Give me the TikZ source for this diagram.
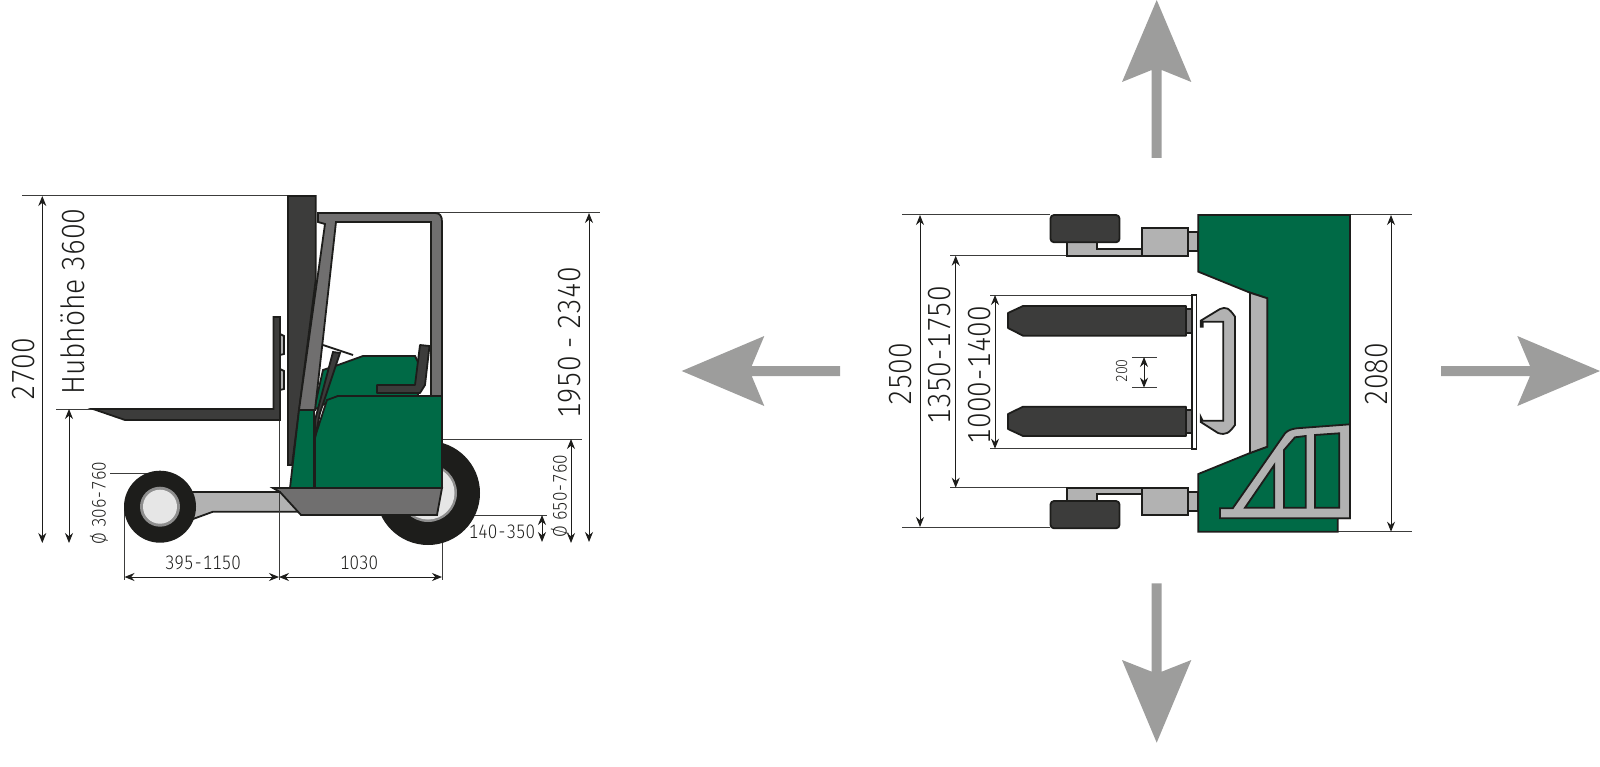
\documentclass[tikz,border=0pt]{standalone}
\usepackage{fontspec}
\setmainfont[FakeStretch=0.87,Numbers=Monospaced]{Fira Sans Light}
\newfontface\hubface[FakeStretch=0.88,Numbers=Monospaced]{Fira Sans Light}
\newcommand{\hy}{\kern1.2pt-\kern1.2pt}
\usetikzlibrary{arrows.meta}
\definecolor{bodygreen}{HTML}{006A46}
\definecolor{darkpart}{HTML}{3C3C3B}
\definecolor{outline}{HTML}{1D1D1B}
\definecolor{lightpart}{HTML}{B2B2B2}
\definecolor{midpart}{HTML}{706F6F}
\definecolor{hubfill}{HTML}{E6E6E6}
\definecolor{bigarrow}{HTML}{9D9D9C}
\tikzset{
  part/.style={draw=outline,line width=1.8pt,line join=miter},
  dimline/.style={draw=outline,line width=1pt,{Stealth[length=10pt,width=8pt]}-{Stealth[length=10pt,width=8pt]}},
  extline/.style={draw=darkpart,line width=1pt},
  biglabel/.style={inner sep=0pt,text=outline,font=\fontsize{32}{32}\selectfont,rotate=90},
  smalllabel/.style={inner sep=0pt,text=outline,font=\fontsize{19.5}{19.5}\selectfont},
  bigmark/.style={fill=bigarrow,draw=none}
}
\begin{document}
\begin{tikzpicture}[x=1pt,y=-1pt]
\useasboundingbox (0,0) rectangle (1600,767);

% big arrows
\fill[bigmark] (1151.7,158) -- (1151.7,70) -- (1122,82) -- (1156.7,0) -- (1191.3,82) -- (1161.7,70) -- (1161.7,158) -- cycle;
\fill[bigmark] (1151.7,583.3) -- (1151.7,671.7) -- (1122,660) -- (1156.7,742.7) -- (1191.3,660) -- (1161.7,671.7) -- (1161.7,583.3) -- cycle;
\fill[bigmark] (840,366) -- (751.7,366) -- (764.3,336) -- (681.7,371) -- (764.3,406) -- (751.7,376) -- (840,376) -- cycle;
\fill[bigmark] (1441,366) -- (1530,366) -- (1517.3,336) -- (1600,371) -- (1517.3,406) -- (1530,376) -- (1441,376) -- cycle;

% ---------- side view: dimension lines
\coordinate (topL) at (22,196);
\coordinate (topR) at (288,196);
\draw[extline] (topL) -- (topR);
\draw[dimline] (42.3,196) -- (42.3,543);
\draw[extline] (56,409) -- (93,409);
\draw[dimline] (69,409) -- (69,543);
\draw[extline] (110,473) -- (150,473);
\draw[extline] (124.5,507) -- (124.5,580);
\draw[extline] (442,540) -- (442,580);
\draw[dimline] (124.5,577) -- (279,577);
\draw[dimline] (279,577) -- (442,577);
\draw[extline] (435,213) -- (600,213);
\draw[dimline] (589,213) -- (589,542);
\draw[extline] (442,439) -- (582,439);
\draw[dimline] (571,439) -- (571,543);
\draw[extline] (437,515) -- (547,515);
\draw[dimline] (542,515) -- (542,542);

\node[biglabel] (l2700) at (24,369) {2700};
\node[biglabel,font=\hubface\fontsize{32}{32}\selectfont] (lhub) at (73,301.5) {Hubhöhe 3600};
\node[biglabel] (l1950) at (570,343) {1950 - 2340};
\node[smalllabel,rotate=90] (l306) at (99,503) {Ø 306\hy760};
\node[smalllabel,rotate=90] (l650) at (560,496) {Ø 650\hy760};
\node[smalllabel] (l395) at (203,563) {395\hy1150};
\node[smalllabel] (l1030) at (359,563) {1030};
\node[smalllabel] (l140) at (502,532) {140\hy350};

% small wheel and arm
\filldraw[part,fill=lightpart] (190,492) -- (300,492) -- (300,511.7) -- (213,511.7) -- (193,519) -- cycle;
\fill[outline] (160,506.7) circle (36);
\fill[lightpart!80!black] (160,506.7) circle (20);
\fill[hubfill] (160,506.7) circle (17);
\draw[extline] (279,420) -- (279,580);

% large wheel
\fill[outline] (428,493) circle (52);
\fill[lightpart!80!black] (428,493) circle (29);
\fill[hubfill] (428,493) circle (26.5);

% forks and carriage
\filldraw[part,fill=lightpart] (280,334) -- (284,336) -- (284,354) -- (280,355) -- cycle;
\filldraw[part,fill=lightpart] (280,369) -- (284,371) -- (284,389) -- (280,390) -- cycle;
\filldraw[part,fill=darkpart] (273.5,317) -- (280,317) -- (280,420) -- (125,420) -- (93,409) -- (273.5,409) -- cycle;

% hood
\filldraw[part,fill=bodygreen] (314,410) -- (323,370) -- (338,365) -- (363,356) -- (415,356) -- (418,362) -- (418,396) -- (338,396) -- cycle;
% mast
\filldraw[part,fill=darkpart] (288,196) -- (315.7,196) -- (315.7,280) -- (292,465) -- (288,465) -- cycle;
% cab frame
\filldraw[part,fill=midpart] (318,213) -- (435,213) .. controls (440,213) and (442,216) .. (442,222) -- (442,396) -- (431,396) -- (431,222) -- (336,222) -- (315,410) -- (299,410) -- (325,224) -- (318,222) -- cycle;
% front green
\filldraw[part,fill=bodygreen] (290,488) -- (299,410) -- (314,410) -- (314,488) -- cycle;
% rear green
\filldraw[part,fill=bodygreen] (315,488) -- (315,437) -- (327,400) -- (338,396) -- (442,396) -- (442,488) -- cycle;
% steering
\draw[outline,line width=1.8pt] (323,345) -- (353,355);
\filldraw[part,fill=darkpart] (333,352) -- (340,353) -- (320,413) -- (315,438) -- (315,420) -- cycle;
% seat
\filldraw[part,fill=darkpart,line join=round] (420,345) -- (429.5,346) -- (425,385) -- (420,393) -- (377,393) -- (377,385) -- (415,385) -- cycle;
% skirt
\filldraw[part,fill=midpart] (273,488) -- (442,488) -- (437,515) -- (301,515) -- (280,492) -- cycle;

% ---------- top view: dimension lines
\draw[extline] (902,215) -- (1050,215);
\draw[extline] (902,527) -- (1050,527);
\draw[dimline] (920,215) -- (920,527);
\draw[extline] (950,255.7) -- (1067,255.7);
\draw[extline] (950,487.7) -- (1067,487.7);
\draw[dimline] (955.7,255.7) -- (955.7,487.7);
\draw[extline] (990,295) -- (1192,295);
\draw[extline] (990,448.7) -- (1192,448.7);
\draw[dimline] (995,295) -- (995,448.7);
\draw[extline] (1132,357) -- (1157,357);
\draw[extline] (1132,387.7) -- (1157,387.7);
\draw[dimline] (1144,357) -- (1144,387.7);

\node[biglabel] (l2500) at (900.7,374) {2500};
\node[biglabel] (l1350) at (940,355) {1350\hy1750};
\node[biglabel] (l1000) at (980,375) {1000\hy1400};
\node[biglabel] (l2080) at (1377,374) {2080};
\node[inner sep=0pt,text=outline,font=\fontsize{16}{16}\selectfont,rotate=90] (l200) at (1121.7,371) {200};
\draw[extline] (1350,215) -- (1412,215);
\draw[extline] (1338,531.7) -- (1412,531.7);
\draw[dimline] (1391,215) -- (1391,531.7);

% green body
\filldraw[part,fill=bodygreen] (1198.3,215) -- (1350,215) -- (1350,518.3) -- (1337.7,518.3) -- (1337.7,531.7) -- (1198.3,531.7) -- (1198.3,474) -- (1250,453) -- (1267.3,446.7) -- (1267.3,298.3) -- (1250,292.7) -- (1198.3,271.7) -- cycle;
\filldraw[part,fill=lightpart] (1250,292.7) -- (1267.3,298.3) -- (1267.3,446.7) -- (1250,453) -- cycle;
% guard
\filldraw[part,fill=lightpart] (1220,508.3) -- (1232.7,508.3) -- (1285,433.3) .. controls (1288,430) and (1292,429) .. (1296.7,428.3) -- (1350,424.3) -- (1350,518.3) -- (1220,518.3) -- cycle;
\filldraw[part,fill=bodygreen] (1274.3,465) -- (1274.3,507.7) -- (1245,507.7) -- cycle;
\filldraw[part,fill=bodygreen] (1284,450) -- (1295,437.3) -- (1305.7,436) -- (1305.7,507.7) -- (1284,507.7) -- cycle;
\filldraw[part,fill=bodygreen] (1315,435) -- (1339.3,433.3) -- (1339.3,507.7) -- (1315,507.7) -- cycle;

% handle
\filldraw[part,fill=lightpart] (1200.7,326.7) -- (1200.7,320.7) -- (1220,309) .. controls (1226,306.5) and (1229,308) .. (1235,316.7) -- (1235,425) .. controls (1229,433) and (1226,435.5) .. (1218,433) -- (1200.7,422) -- (1200.7,416.7) -- (1202.7,420.7) -- (1223.3,420.7) -- (1223.3,321.7) -- (1202.7,321.7) -- (1202.7,326.7) -- cycle;

% carriage plate and fork ends
\filldraw[part,fill=white,line width=1.2pt] (1192,295) rectangle (1196.5,449);
\filldraw[part,fill=midpart] (1185,309) rectangle (1192,333);
\filldraw[part,fill=midpart] (1185,410) rectangle (1192,433);
\filldraw[part,fill=darkpart,line join=round] (1023,306) -- (1186,306) -- (1186,335.7) -- (1023,335.7) -- (1008,328) -- (1008,313) -- cycle;
\filldraw[part,fill=darkpart,line join=round] (1023,406.7) -- (1186,406.7) -- (1186,436) -- (1023,436) -- (1008,429) -- (1008,414) -- cycle;

% upper wheel unit
\filldraw[part,fill=lightpart] (1067.3,242.3) -- (1096.7,242.3) -- (1096.7,249) -- (1141.7,249) -- (1141.7,255.7) -- (1067.3,255.7) -- cycle;
\filldraw[part,fill=lightpart] (1141.7,228.3) rectangle (1187.7,255.7);
\filldraw[part,fill=lightpart] (1188,232.3) rectangle (1198.3,251);
\filldraw[part,fill=darkpart,rounded corners=3.5pt] (1050.5,215) rectangle (1119.5,242.3);
% lower wheel unit
\filldraw[part,fill=lightpart] (1067.3,487.7) -- (1141.7,487.7) -- (1141.7,494.3) -- (1096.7,494.3) -- (1096.7,501) -- (1067.3,501) -- cycle;
\filldraw[part,fill=lightpart] (1141.7,487.7) rectangle (1187.7,515);
\filldraw[part,fill=lightpart] (1188,491.7) rectangle (1198.3,510.7);
\filldraw[part,fill=darkpart,rounded corners=3.5pt] (1050.5,501) rectangle (1119.5,528.3);
\end{tikzpicture}
\end{document}
